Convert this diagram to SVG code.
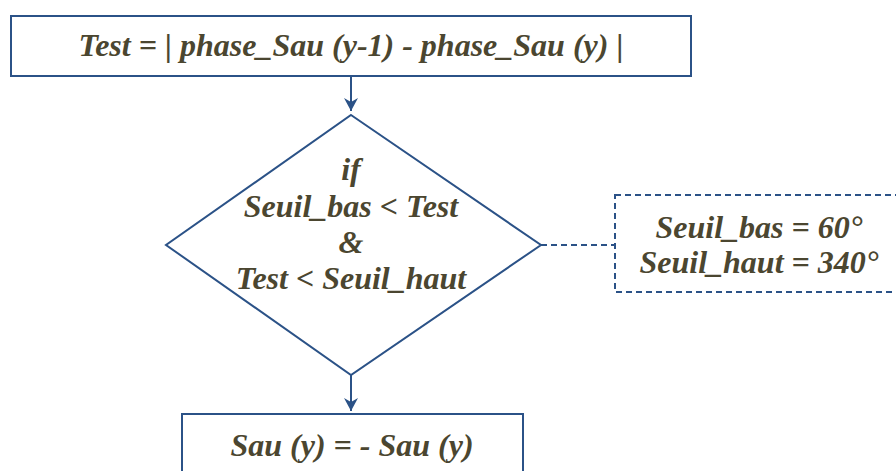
<svg xmlns="http://www.w3.org/2000/svg" width="896" height="471" viewBox="0 0 896 471">
<defs>
<style>
.box{fill:#fff;stroke:#2b5287;stroke-width:2}
.dash{fill:#fff;stroke:#2b5287;stroke-width:2;stroke-dasharray:6 4}
.t{font-family:"Liberation Serif","Times New Roman",serif;font-weight:bold;font-style:italic;font-size:32px;fill:#4b4630;text-anchor:middle}
.conn{fill:none;stroke:#2b5287;stroke-width:2}
</style>
<marker id="arr" markerWidth="14" markerHeight="14" refX="13" refY="7" orient="auto" markerUnits="userSpaceOnUse">
<path d="M0,0 L13,7 L0,14 L4,7 Z" fill="#2b5287"/>
</marker>
</defs>
<rect width="896" height="471" fill="#fff"/>
<g id="connectors">
<line class="conn" x1="351" y1="76" x2="351" y2="111" marker-end="url(#arr)"/>
<line class="conn" x1="351" y1="374" x2="351" y2="411" marker-end="url(#arr)"/>
<line x1="541" y1="245" x2="615" y2="245" stroke="#2b5287" stroke-width="2" stroke-dasharray="6 4"/>
</g>
<g id="test">
<rect class="box" x="11" y="16" width="680" height="60"/>
<text class="t" x="351" y="56">Test = | phase_Sau (y-1) - phase_Sau (y) |</text>
</g>
<g id="decision">
<polygon class="box" points="351,115 541,245 351,375 166,245"/>
<text class="t" x="351" y="180">if</text>
<text class="t" x="351" y="217">Seuil_bas &lt; Test</text>
<text class="t" x="351" y="253">&amp;</text>
<text class="t" x="351" y="289">Test &lt; Seuil_haut</text>
</g>
<g id="thresholds">
<rect class="dash" x="615" y="195" width="300" height="97"/>
<text class="t" x="759" y="238">Seuil_bas = 60°</text>
<text class="t" x="759" y="273">Seuil_haut = 340°</text>
</g>
<g id="invert">
<rect class="box" x="182" y="414" width="341" height="80"/>
<text class="t" x="352" y="456">Sau (y) = - Sau (y)</text>
</g>
</svg>
